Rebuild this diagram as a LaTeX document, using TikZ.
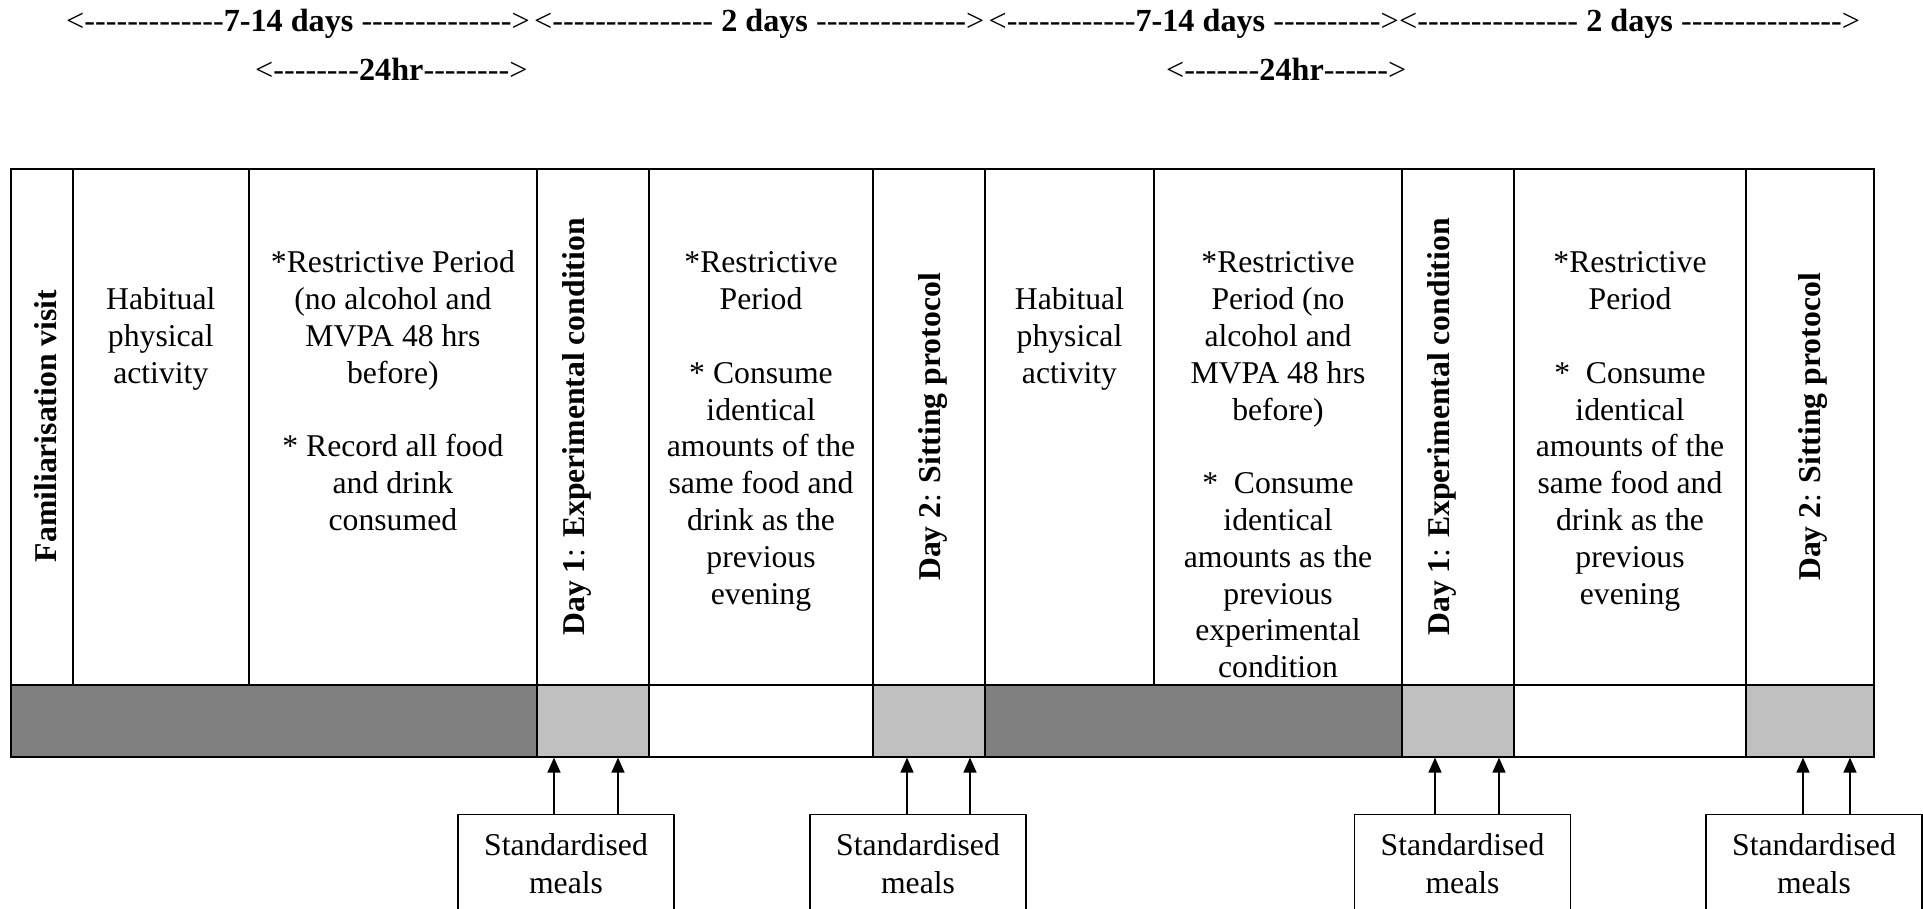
\documentclass[tikz,border=0pt]{standalone}
\usepackage{fontspec}
\setmainfont{Liberation Serif}[Ligatures=TeXOff]
\usetikzlibrary{arrows.meta,calc}
\definecolor{darkband}{RGB}{128,128,128}
\definecolor{lightband}{RGB}{192,192,192}
\begin{document}
\begin{tikzpicture}[x=1pt,y=-1pt,
  txt/.style={font=\fontsize{31.7pt}{36.8pt}\selectfont, inner sep=0pt, align=center},
  cell/.style={txt, anchor=north},
  vert/.style={inner sep=0pt, rotate=90, anchor=base, font=\fontsize{31.7pt}{36.8pt}\selectfont\bfseries},
  hdr/.style={txt, anchor=base west, font=\fontsize{32.2pt}{36.8pt}\selectfont},
  grid/.style={line width=1.8pt},
  mealbox/.style={draw, line width=1.3pt, minimum width=216pt, minimum height=150pt, anchor=north, inner sep=0pt},
  arr/.style={line width=1.5pt, -{Triangle[width=13pt,length=15pt]}},
]
\useasboundingbox (0,0) rectangle (1923,909);
\clip (0,0) rectangle (1923,909);

% header
\node[hdr] (h1) at (66,32) {<-------------\textbf{7-14 days} -------------->};
\node[hdr] (h2) at (534,32) {<--------------- \textbf{2 days} -------------->};
\node[hdr] (h3) at (988.5,32) {<------------\textbf{7-14 days} ---------->};
\node[hdr] (h4) at (1399,32) {<--------------- \textbf{2 days} --------------->};
\node[hdr] (h5) at (255,81) {<--------\textbf{24hr}-------->};
\node[hdr] (h6) at (1166,81) {<-------\textbf{24hr}------>};

% lower band fills
\fill[darkband] (11,684.7) rectangle (536.7,756.7);
\fill[lightband] (536.7,684.7) rectangle (649,756.7);
\fill[lightband] (873,684.7) rectangle (985,756.7);
\fill[darkband] (985,684.7) rectangle (1402,756.7);
\fill[lightband] (1402,684.7) rectangle (1514,756.7);
\fill[lightband] (1746,684.7) rectangle (1874,756.7);

% grid
\draw[grid] (11,169) rectangle (1874,756.7);
\draw[grid] (11,684.7) -- (1874,684.7);
\foreach \xx in {536.7,649,873,985,1402,1514,1746}
  \draw[grid] (\xx,169) -- (\xx,756.7);
\foreach \xx in {72.7,249,1154}
  \draw[grid] (\xx,169) -- (\xx,684.7);

% rotated labels
\node[vert] (fam) at (56,426) {Familiarisation visit};
\node[vert] (d1a) at (584,427) {Day 1\textmd{:} Experimental condition};
\node[vert] (d2a) at (940,427) {Day 2\textmd{:} Sitting protocol};
\node[vert] (d1b) at (1449,427) {Day 1\textmd{:} Experimental condition};
\node[vert] (d2b) at (1820,427) {Day 2\textmd{:} Sitting protocol};

% cell texts
\node[cell] (c2) at (160.8,283.7) {\strut Habitual\\physical\\activity};
\node[cell] (c3) at (392.9,246.9) {\strut *Restrictive Period\\(no alcohol and\\MVPA 48 hrs\\before)\\[36.8pt]* Record all food\\and drink\\consumed};
\node[cell] (c5) at (761,246.9) {\strut *Restrictive\\Period\\[36.8pt]* Consume\\identical\\amounts of the\\same food and\\drink as the\\previous\\evening};
\node[cell] (c6) at (1069.5,283.7) {\strut Habitual\\physical\\activity};
\node[cell] (c7) at (1278,246.9) {\strut *Restrictive\\Period (no\\alcohol and\\MVPA 48 hrs\\before)\\[36.8pt]*~~Consume\\identical\\amounts as the\\previous\\experimental\\condition};
\node[cell] (c9) at (1630,246.9) {\strut *Restrictive\\Period\\[36.8pt]*~~Consume\\identical\\amounts of the\\same food and\\drink as the\\previous\\evening};

% meal boxes
\node[mealbox] (m1) at (566,814) {};
\node[mealbox] (m2) at (918,814) {};
\node[mealbox] (m3) at (1462.5,814) {};
\node[mealbox] (m4) at (1814,814) {};
\node[cell] (t1) at (566,829.5) {\strut Standardised\\[1.5pt]meals};
\node[cell] (t2) at (918,829.5) {\strut Standardised\\[1.5pt]meals};
\node[cell] (t3) at (1462.5,829.5) {\strut Standardised\\[1.5pt]meals};
\node[cell] (t4) at (1814,829.5) {\strut Standardised\\[1.5pt]meals};

% arrow ends
\coordinate (a1) at (554,757.6);
\coordinate (a2) at (618,757.6);
\coordinate (a3) at (907,757.6);
\coordinate (a4) at (970,757.6);
\coordinate (a5) at (1435,757.6);
\coordinate (a6) at (1499,757.6);
\coordinate (a7) at (1803,757.6);
\coordinate (a8) at (1850,757.6);
\draw[arr] (m1.north -| a1) -- (a1);
\draw[arr] (m1.north -| a2) -- (a2);
\draw[arr] (m2.north -| a3) -- (a3);
\draw[arr] (m2.north -| a4) -- (a4);
\draw[arr] (m3.north -| a5) -- (a5);
\draw[arr] (m3.north -| a6) -- (a6);
\draw[arr] (m4.north -| a7) -- (a7);
\draw[arr] (m4.north -| a8) -- (a8);
\end{tikzpicture}
\end{document}
